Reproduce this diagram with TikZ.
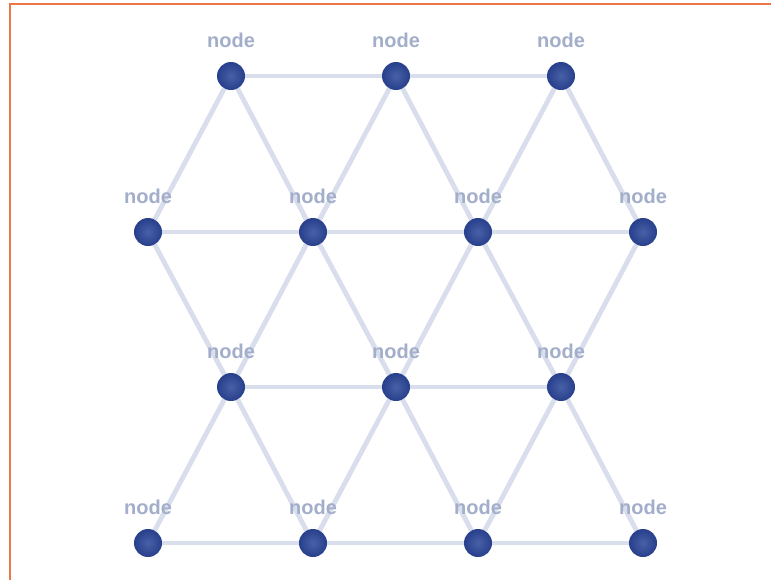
\documentclass[tikz,border=0pt]{standalone}
\usepackage{fontspec}
\setmainfont{Liberation Sans}
\definecolor{edgec}{RGB}{216,222,235}
\definecolor{ballc}{RGB}{40,64,140}
\definecolor{ballin}{RGB}{72,96,166}
\definecolor{labc}{RGB}{163,174,202}
\definecolor{framec}{RGB}{236,118,72}
\begin{document}
\begin{tikzpicture}[x=1pt,y=-1pt,
  ball/.style={circle,minimum size=28pt,inner sep=0pt,inner color=ballin,outer color=ballc},
  link/.style={draw=edgec,line width=4.8pt},
  lab/.style={text=labc,font=\fontsize{20}{20}\selectfont\bfseries,inner sep=0pt}]
\useasboundingbox (0,0) rectangle (771,579);
\fill[white] (0,0) rectangle (771,579);
\draw[framec,line width=2pt] (10,600) -- (10,3.5) -- (790,3.5);
% coordinates
\foreach \n/\x/\y in {a1/231/76,a2/396/76,a3/561/76,
  b1/148/232,b2/313/232,b3/478/232,b4/643/232,
  c1/231/387,c2/396/387,c3/561/387,
  d1/148/543,d2/313/543,d3/478/543,d4/643/543}
  {\coordinate (\n) at (\x,\y);}
% edges
\foreach \u/\v in {a1/a2,a2/a3,b1/b2,b2/b3,b3/b4,c1/c2,c2/c3,d1/d2,d2/d3,d3/d4,
  a1/b1,a1/b2,a2/b2,a2/b3,a3/b3,a3/b4,
  b1/c1,b2/c1,b2/c2,b3/c2,b3/c3,b4/c3,
  c1/d1,c1/d2,c2/d2,c2/d3,c3/d3,c3/d4}
  {\path[link] (\u) -- (\v);}
% balls and labels
\foreach \n in {a1,a2,a3,b1,b2,b3,b4,c1,c2,c3,d1,d2,d3,d4}{
  \node[ball] (\n n) at (\n) {};
  \node[lab,anchor=base] (\n l) at ([yshift=29pt]\n) {node};
}
\end{tikzpicture}
\end{document}
